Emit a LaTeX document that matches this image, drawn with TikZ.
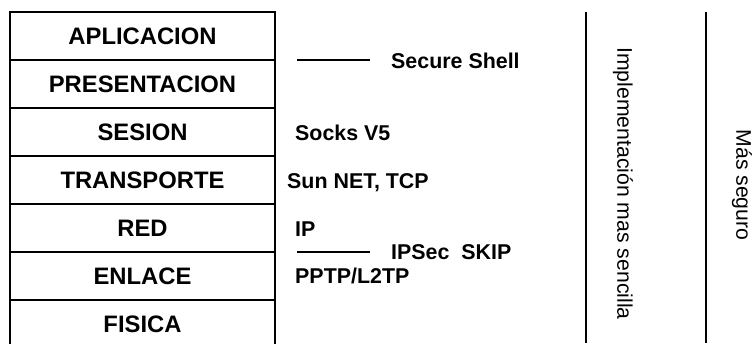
\documentclass[tikz,border=0pt]{standalone}
\usepackage{fontspec}
\setmainfont{Liberation Sans}
\begin{document}
\begin{tikzpicture}[x=1pt,y=-1pt,
  layer/.style={draw,line width=2pt,rectangle,minimum width=265pt,minimum height=48pt,
    inner sep=0pt,font=\fontsize{23.8}{26}\selectfont\bfseries},
  proto/.style={anchor=base west,inner sep=0pt,font=\fontsize{21.4}{24}\selectfont\bfseries},
  side/.style={rotate=-90,inner sep=0pt,font=\fontsize{21.2}{24}\selectfont},
  rule/.style={line width=2pt}]
\useasboundingbox (0,0) rectangle (754,343);
% OSI layer stack
\node[layer] (apl) at (142.5,36)  {APLICACION};
\node[layer] (pre) at (142.5,84)  {PRESENTACION};
\node[layer] (ses) at (142.5,132) {SESION};
\node[layer] (tra) at (142.5,180) {TRANSPORTE};
\node[layer] (red) at (142.5,228) {RED};
\node[layer] (enl) at (142.5,276) {ENLACE};
\node[layer] (fis) at (142.5,324) {FISICA};
% protocols per layer
\node[proto] (ssh)  at (391,68)  {Secure Shell};
\node[proto] (sock) at (295,140) {Socks V5};
\node[proto] (sun)  at (287,188) {Sun NET, TCP};
\node[proto] (ip)   at (295,236.5) {IP};
\node[proto] (ipsec) at (391,259) {IPSec\ \ SKIP};
\node[proto] (pptp) at (295,283) {PPTP/L2TP};
\coordinate (l1a) at (297,60);  \coordinate (l1b) at (370,60);
\coordinate (l2a) at (297,252); \coordinate (l2b) at (370,252);
\draw[rule] (l1a) -- (l1b);
\draw[rule] (l2a) -- (l2b);
% side columns
\coordinate (v1t) at (586,12); \coordinate (v1b) at (586,343);
\coordinate (v2t) at (706,12); \coordinate (v2b) at (706,343);
\draw[rule] (v1t) -- (v1b);
\draw[rule] (v2t) -- (v2b);
\node[side] (impl) at (623,183.5) {Implementación mas sencilla};
\node[side] (seg)  at (742,185) {Más seguro};
\end{tikzpicture}
\end{document}
